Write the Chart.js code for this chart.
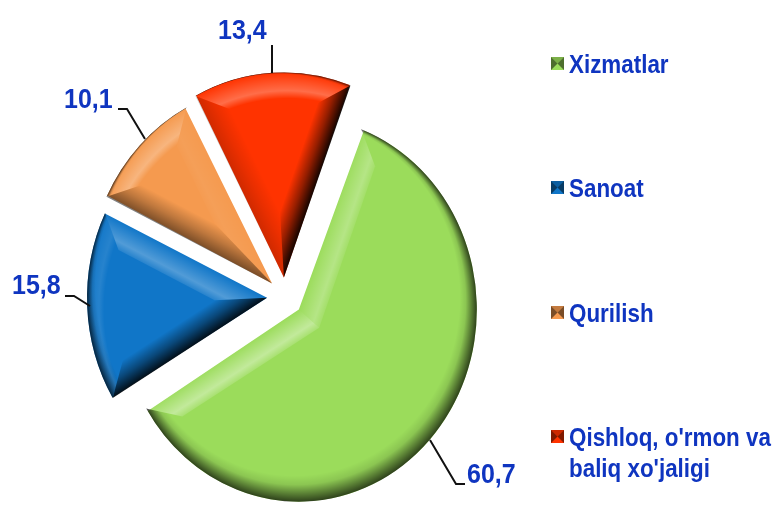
<!DOCTYPE html>
<html>
<head>
<meta charset="utf-8">
<style>
  html, body { margin: 0; padding: 0; background: #fff; }
  #wrap { width: 776px; height: 508px; }
</style>
<script src="https://cdn.jsdelivr.net/npm/chart.js@4"></script>
</head>
<body>
<div id="wrap"><canvas id="pieChart" width="776" height="508"></canvas></div>
<script>
const categories = ["Xizmatlar", "Sanoat", "Qurilish", "Qishloq, o'rmon va baliq xo'jaligi"];
const values = [60.7, 15.8, 10.1, 13.4];
const valueLabels = ["60,7", "15,8", "10,1", "13,4"];
const sliceColors = ["#9BDC5B", "#1076C8", "#F59A4F", "#FF3300"];
const sliceRadii = [178, 180, 184, 190];
const edgeShade = [0.6, 0.88, 0.5, 0.92];

const textBlue = "#0F35C0";
const sliceOffset = 72;
const stretchY = 1.08;
const bevel = 25;
const light = { x: -0.35, y: -0.93 };

// where the value labels and their leader lines sit
const valueLabelLayout = [
  { x: 467, y: 483, line: [[430, 440], [456, 484], [465, 484]] },
  { x: 12, y: 294, line: [[90, 306], [74, 296], [65, 296]] },
  { x: 64, y: 108, line: [[145, 139], [127, 109], [118, 109]] },
  { x: 218, y: 39, line: [[272, 73], [272, 45]] },
];
const legendLayout = [
  { y: 73, lines: ["Xizmatlar"] },
  { y: 197, lines: ["Sanoat"] },
  { y: 322, lines: ["Qurilish"] },
  { y: 446, lines: ["Qishloq, o'rmon va", "baliq xo'jaligi"] },
];

function arcFix(arc) {
  return 1 - Math.sin(Math.min(Math.PI, arc.endAngle - arc.startAngle));
}

// same geometry Arc.draw ends up with when it applies the offset
function sliceGeom(arc, index) {
  const t = sliceOffset / 4;
  const mid = (arc.startAngle + arc.endAngle) / 2;
  return {
    px: arc.x + Math.cos(mid) * t,
    py: arc.y + Math.sin(mid) * t,
    r: sliceRadii[index],
    a: arc.startAngle,
    e: arc.endAngle,
    mid: mid,
    shade: edgeShade[index],
  };
}

function edgeBand(ctx, g, angle, normal, sign) {
  const half = (g.e - g.a) / 2;
  const apexDist = bevel / Math.sin(half);
  const ax = g.px + Math.cos(g.mid) * apexDist;
  const ay = g.py + Math.sin(g.mid) * apexDist;
  const inner = g.r - bevel;
  const da = Math.asin(bevel / inner);
  const ia = angle + sign * da;
  const dot = normal.x * light.x + normal.y * light.y;

  ctx.save();
  ctx.beginPath();
  ctx.moveTo(g.px, g.py);
  ctx.lineTo(g.px + Math.cos(angle) * g.r, g.py + Math.sin(angle) * g.r);
  ctx.lineTo(g.px + Math.cos(ia) * inner, g.py + Math.sin(ia) * inner);
  ctx.lineTo(ax, ay);
  ctx.closePath();
  ctx.clip();

  const grad = ctx.createLinearGradient(
    g.px, g.py,
    g.px - normal.x * bevel, g.py - normal.y * bevel
  );
  if (dot > 0) {
    const k = 0.4 * dot;
    grad.addColorStop(0, "rgba(255,255,255,0)");
    grad.addColorStop(0.72, `rgba(255,255,255,${k})`);
    grad.addColorStop(1, `rgba(255,255,255,${k * 0.35})`);
  } else {
    const k = g.shade * Math.min(1, -dot / 0.6);
    grad.addColorStop(0, `rgba(0,0,0,${k})`);
    grad.addColorStop(0.5, `rgba(0,0,0,${k * 0.45})`);
    grad.addColorStop(1, "rgba(0,0,0,0)");
  }
  ctx.fillStyle = grad;
  ctx.fillRect(0, -50, 776, 620);
  ctx.restore();
}

function rimBand(ctx, g) {
  const inner = g.r - bevel;
  const da = Math.asin(bevel / inner);
  const s = (bevel / 2) * 0.97;
  const rimDot = Math.cos(g.mid) * light.x + Math.sin(g.mid) * light.y;

  ctx.save();
  ctx.beginPath();
  ctx.arc(g.px, g.py, g.r, g.a, g.e);
  ctx.arc(g.px, g.py, inner, g.e - da, g.a + da, true);
  ctx.closePath();
  ctx.clip();

  const dark = ctx.createRadialGradient(
    g.px + light.x * s, g.py + light.y * s, inner + s,
    g.px, g.py, g.r
  );
  dark.addColorStop(0, "rgba(0,0,0,0)");
  dark.addColorStop(0.35, "rgba(0,0,0,0.1)");
  dark.addColorStop(1, "rgba(0,0,0,0.7)");
  ctx.fillStyle = dark;
  ctx.fillRect(0, -50, 776, 620);

  if (rimDot > 0) {
    const k = 0.3 * rimDot;
    const lit = ctx.createRadialGradient(
      g.px - light.x * s, g.py - light.y * s, inner + s,
      g.px, g.py, g.r
    );
    lit.addColorStop(0, "rgba(255,255,255,0)");
    lit.addColorStop(0.3, `rgba(255,255,255,${k})`);
    lit.addColorStop(1, "rgba(255,255,255,0)");
    ctx.fillStyle = lit;
    ctx.fillRect(0, -50, 776, 620);
  }
  ctx.restore();
}

function drawBevel(ctx, arc, index) {
  const g = sliceGeom(arc, index);
  rimBand(ctx, g);
  edgeBand(ctx, g, g.a, { x: Math.sin(g.a), y: -Math.cos(g.a) }, 1);
  edgeBand(ctx, g, g.e, { x: -Math.sin(g.e), y: Math.cos(g.e) }, -1);
}

function drawMarker(ctx, x, y, size, color) {
  const c = size / 2;
  ctx.fillStyle = color;
  ctx.fillRect(x, y, size, size);
  ctx.fillStyle = "rgba(0,0,0,0.5)";
  ctx.beginPath();
  ctx.moveTo(x, y);
  ctx.lineTo(x + c, y + c);
  ctx.lineTo(x, y + size);
  ctx.moveTo(x + size, y);
  ctx.lineTo(x + c, y + c);
  ctx.lineTo(x + size, y + size);
  ctx.fill();
  ctx.fillStyle = "rgba(0,0,0,0.2)";
  ctx.beginPath();
  ctx.moveTo(x, y);
  ctx.lineTo(x + c, y + c);
  ctx.lineTo(x + size, y);
  ctx.fill();
}

function tallText(ctx, text, x, y) {
  ctx.save();
  ctx.translate(x, y);
  ctx.scale(1, 1.14);
  ctx.fillText(text, 0, 0);
  ctx.restore();
}

const bevelPlugin = {
  id: "bevelPie",
  afterDatasetsUpdate(chart) {
    // each slice gets its own radius, the option only takes one
    chart.getDatasetMeta(0).data.forEach((arc, i) => {
      arc.outerRadius = sliceRadii[i] - (sliceOffset / 4) * arcFix(arc);
    });
  },
  beforeDatasetsDraw(chart) {
    const { ctx } = chart;
    const arc = chart.getDatasetMeta(0).data[0];
    ctx.save();
    ctx.translate(arc.x, arc.y);
    ctx.scale(1, stretchY);
    ctx.translate(-arc.x, -arc.y);
  },
  afterDatasetsDraw(chart) {
    const { ctx } = chart;
    chart.getDatasetMeta(0).data.forEach((arc, i) => drawBevel(ctx, arc, i));
    ctx.restore();
  },
  afterDraw(chart) {
    const { ctx } = chart;
    ctx.save();
    ctx.textBaseline = "alphabetic";

    ctx.strokeStyle = "#111";
    ctx.lineWidth = 2;
    valueLabelLayout.forEach((item) => {
      ctx.beginPath();
      item.line.forEach((p, i) => (i ? ctx.lineTo(p[0], p[1]) : ctx.moveTo(p[0], p[1])));
      ctx.stroke();
    });

    ctx.fillStyle = textBlue;
    ctx.font = "bold 25px 'Liberation Sans'";
    valueLabels.forEach((label, i) => {
      tallText(ctx, label, valueLabelLayout[i].x, valueLabelLayout[i].y);
    });

    ctx.font = "bold 22.4px 'Liberation Sans'";
    legendLayout.forEach((item, i) => {
      drawMarker(ctx, 551, item.y - 16, 13, sliceColors[i]);
      ctx.fillStyle = textBlue;
      item.lines.forEach((line, n) => tallText(ctx, line, 569, item.y + n * 31));
    });
    ctx.restore();
  },
};

new Chart("pieChart", {
  type: "pie",
  data: {
    labels: categories,
    datasets: [
      {
        data: values,
        backgroundColor: sliceColors,
        borderWidth: 0,
        offset: sliceOffset,
        hoverOffset: 0,
        radius: 172,
        clip: false,
      },
    ],
  },
  options: {
    responsive: false,
    animation: false,
    rotation: 20.5,
    layout: { padding: { left: 0, right: 206, top: 86, bottom: 0 } },
    plugins: {
      legend: { display: false },
      tooltip: { enabled: false },
    },
  },
  plugins: [bevelPlugin],
});
</script>
</body>
</html>
